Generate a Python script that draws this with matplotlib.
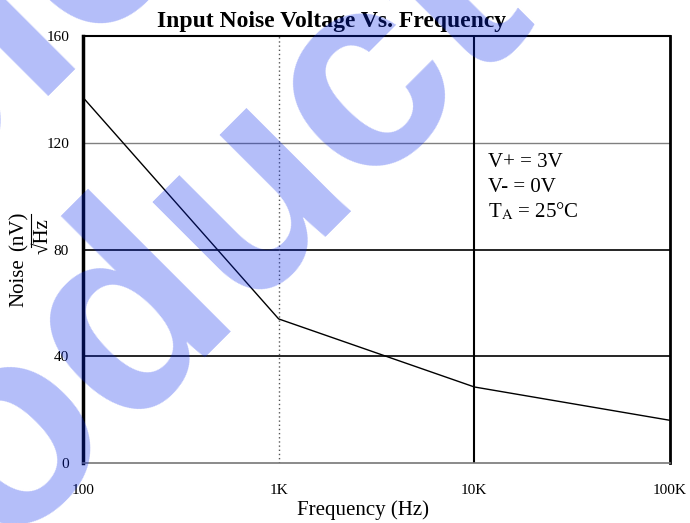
import matplotlib
matplotlib.use('Agg')
import matplotlib.pyplot as plt
from matplotlib.lines import Line2D

plt.rcParams['font.family'] = ['Liberation Serif', 'DejaVu Serif']
plt.rcParams['mathtext.fontset'] = 'stix'

freq = [100, 1000, 10000, 100000]
noise = [137, 54, 28.5, 16]
xticks = [100, 1000, 10000, 100000]
xlabels = ['100', '1K', '10K', '100K']
yticks = [0, 40, 80, 120, 160]
conditions = ['V+ = 3V', 'V- = 0V', r'T$_{\mathrm{A}}$ = 25°C']

fig = plt.figure(figsize=(6.9, 5.23), dpi=100)
ax = fig.add_axes([0.1203, 0.1147, 0.8507, 0.8163])

ax.set_xscale('log')
ax.set_xlim(100, 100000)
ax.set_ylim(0, 160)

# grid lines, drawn one by one because the styles differ
ax.axhline(40, color='black', lw=1.2, zorder=1)
ax.axhline(80, color='black', lw=1.2, zorder=1)
ax.axhline(120, color='#808080', lw=1.0, zorder=1)
ax.axvline(1000, color='#555555', lw=1.0, ls=(0, (1, 2)), zorder=1)
ax.axvline(10000, color='black', lw=1.5, zorder=1)

ax.plot(freq, noise, color='black', lw=1.0, zorder=3)

ax.set_xticks(xticks)
ax.set_xticklabels(xlabels)
ax.minorticks_off()
ax.set_yticks(yticks)
ax.tick_params(length=0, labelsize=11)
ax.tick_params(axis='y', pad=10)
ax.tick_params(axis='x', pad=15)

ax.spines['left'].set_linewidth(2.5)
ax.spines['top'].set_linewidth(1.5)
ax.spines['right'].set_linewidth(2.0)
ax.spines['bottom'].set_linewidth(1.2)
ax.spines['bottom'].set_color('#777777')

fig.text(0.481, 0.958, 'Input Noise Voltage Vs. Frequency', fontsize=17,
         fontweight='bold', ha='center', va='center')
fig.text(0.526, 0.025, 'Frequency (Hz)', fontsize=15, ha='center', va='center')

# y label: Noise (nV)/sqrt(Hz) as a stacked fraction
fig.text(0.028, 0.459, 'Noise', rotation=90, fontsize=15, ha='center', va='center')
fig.text(0.028, 0.558, '(nV)', rotation=90, fontsize=15, ha='center', va='center')
fig.text(0.062, 0.549, '√Hz', rotation=90, fontsize=15, ha='center', va='center')
fig.add_artist(Line2D([0.045, 0.045], [0.527, 0.590], color='black', lw=0.8,
                      transform=fig.transFigure))

for i, s in enumerate(conditions):
    ax.text(0.69, 0.703 - i * 0.057, s, transform=ax.transAxes, fontsize=15,
            ha='left', va='center')

# watermark over the chart, two rotated lines
wm = dict(family='Liberation Sans', fontweight='bold', fontsize=200,
          color=(0.02, 0.15, 0.93), alpha=0.3, rotation=45,
          rotation_mode='anchor', ha='center', va='baseline', zorder=10)
fig.text(-0.071, 0.650, 'Obsolete', **wm)
fig.text(0.236, 0.271, 'Product', **wm)

fig.savefig('out.png', dpi=100)
